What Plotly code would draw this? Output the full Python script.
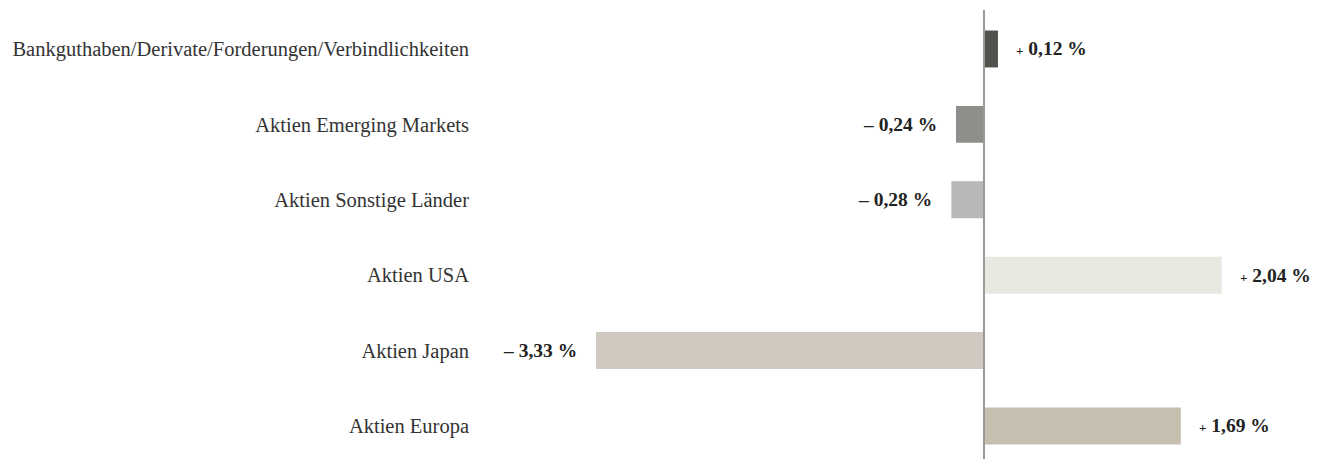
import plotly.graph_objects as go

categories = ["Bankguthaben/Derivate/Forderungen/Verbindlichkeiten",
              "Aktien Emerging Markets",
              "Aktien Sonstige Länder",
              "Aktien USA",
              "Aktien Japan",
              "Aktien Europa"]
values = [0.12, -0.24, -0.28, 2.04, -3.33, 1.69]
colors = ["#52534d", "#8e8f8a", "#b8b8b6", "#e8e7e0", "#d0c9bf", "#c6bfb0"]

n = len(categories)
ypos = [n - 1 - i for i in range(n)]

def fmt(v):
    s = f"{abs(v):.2f}".replace(".", ",")
    if v >= 0:
        return "<span style='font-size:13px'>+</span> " + s + " %"
    return "– " + s + " %"

fig = go.Figure()
fig.add_trace(go.Bar(
    x=values, y=ypos, orientation="h", width=0.49,
    marker=dict(color=colors, line=dict(width=0)),
    hoverinfo="skip",
))

for v, y in zip(values, ypos):
    fig.add_annotation(
        x=v, y=y, text="<b>" + fmt(v) + "</b>", showarrow=False,
        xanchor="left" if v >= 0 else "right",
        xshift=16 if v >= 0 else -17,
        font=dict(family="Liberation Serif", size=19.5, color="#222222"),
    )

fig.add_shape(type="line", xref="x", yref="paper", x0=0, x1=0, y0=0, y1=1,
              line=dict(color="#999999", width=2))

fig.update_layout(
    width=1328, height=459,
    margin=dict(l=480, r=0, t=10, b=0),
    paper_bgcolor="white", plot_bgcolor="white",
    showlegend=False,
    font=dict(family="Liberation Serif", size=20.5, color="#333333"),
    xaxis=dict(range=[-4.326, 2.953], visible=False, showgrid=False, zeroline=False),
    yaxis=dict(range=[-0.438, 5.517], tickvals=ypos, ticktext=categories,
               showgrid=False, zeroline=False, showline=False, ticks="",
               ticklabelstandoff=10,
               tickfont=dict(family="Liberation Serif", size=20.5, color="#333333")),
)

fig.write_html("out.html")
